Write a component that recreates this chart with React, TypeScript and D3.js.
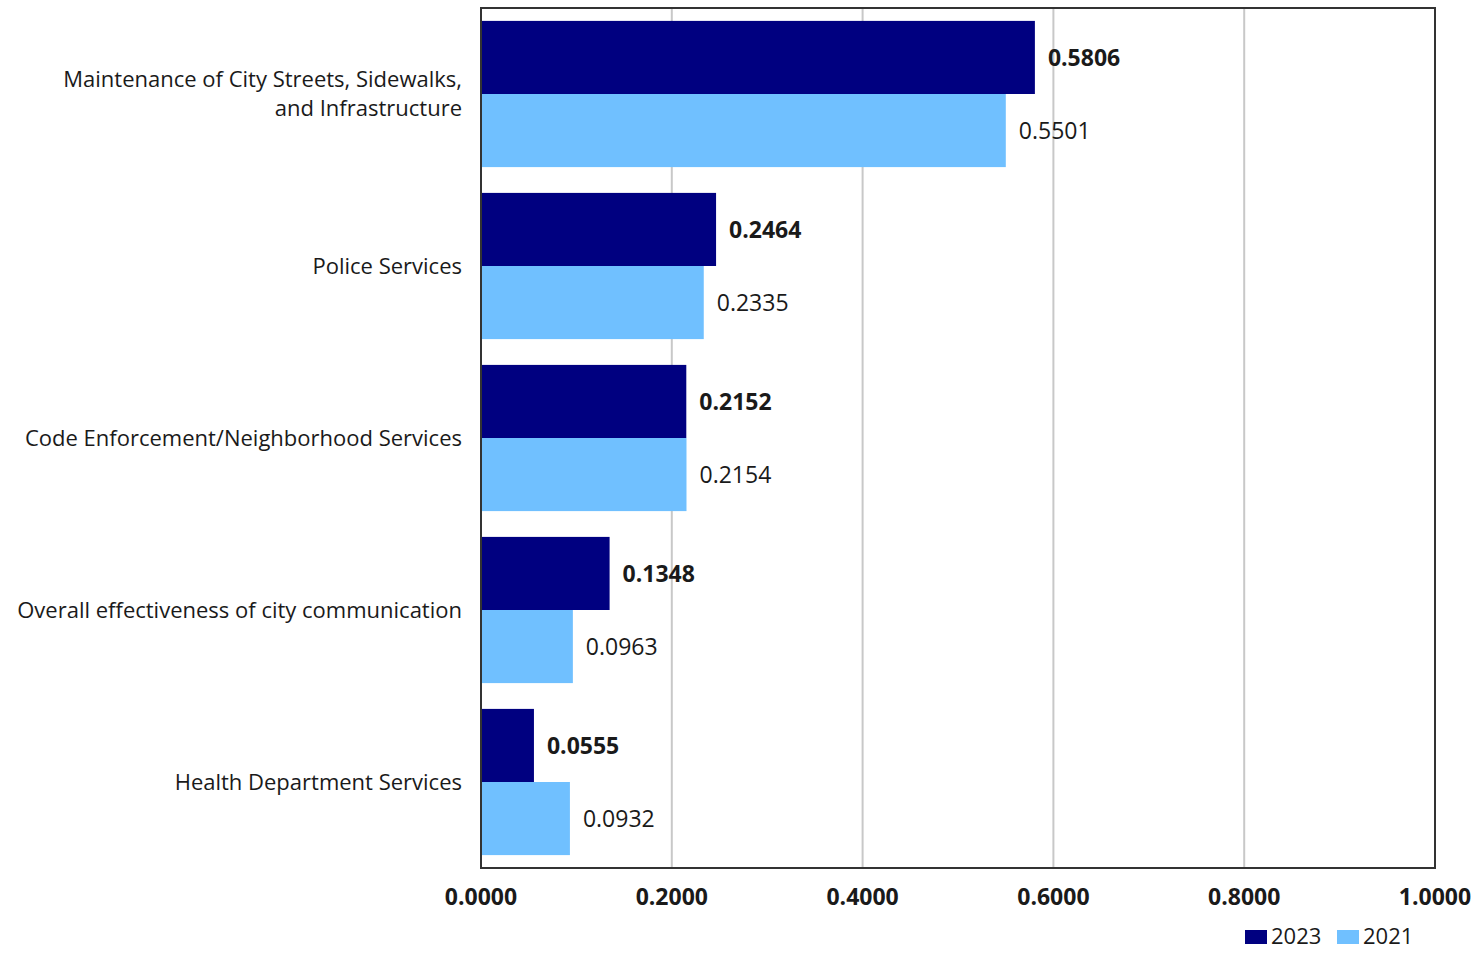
import React from "react";
import * as d3 from "d3";

const categories = [
  ["Maintenance of City Streets, Sidewalks,", "and Infrastructure"],
  ["Police Services"],
  ["Code Enforcement/Neighborhood Services"],
  ["Overall effectiveness of city communication"],
  ["Health Department Services"],
];
const series = ["2023", "2021"];
const values2023 = [0.5806, 0.2464, 0.2152, 0.1348, 0.0555];
const values2021 = [0.5501, 0.2335, 0.2154, 0.0963, 0.0932];
const ticks = [0, 0.2, 0.4, 0.6, 0.8, 1.0];
const colors = ["#000080", "#70C0FF"];

const W = 1480;
const H = 953;
const M = { left: 481, right: 1435, top: 8, bottom: 868 };
const FONT = "'Open Sans', 'Noto Sans', sans-serif";

export default function App() {
  const x = d3.scaleLinear().domain([0, 1]).range([M.left, M.right]);
  const y = d3
    .scaleBand<number>()
    .domain(d3.range(categories.length))
    .range([M.top, M.bottom])
    .paddingInner(0.15)
    .paddingOuter(0.075);
  const inner = d3.scaleBand<string>().domain(series).range([0, y.bandwidth()]);
  const data = [values2023, values2021];

  return (
    <svg
      width={W}
      height={H}
      style={{ position: "absolute", left: 0, top: 0, background: "#fff" }}
      fontFamily={FONT}
    >
      {ticks.slice(1, -1).map((t) => (
        <line key={t} x1={x(t)} x2={x(t)} y1={M.top} y2={M.bottom} stroke="#C8C8C8" strokeWidth={2} />
      ))}
      {categories.map((cat, i) =>
        series.map((s, j) => {
          const v = data[j][i];
          const y0 = (y(i) as number) + (inner(s) as number);
          return (
            <g key={`${i}-${j}`}>
              <rect x={x(0)} y={y0} width={x(v) - x(0)} height={inner.bandwidth()} fill={colors[j]} />
              <text
                x={x(v) + 13}
                y={y0 + inner.bandwidth() / 2}
                dy="0.35em"
                fontSize={23}
                fontWeight={j === 0 ? 700 : 400}
                fill="#1a1a1a"
              >
                {v.toFixed(4)}
              </text>
            </g>
          );
        })
      )}
      {categories.map((cat, i) => {
        const cy = (y(i) as number) + y.bandwidth() / 2;
        const lh = 29;
        return (
          <text key={i} x={462} textAnchor="end" fontSize={22} fill="#1a1a1a">
            {cat.map((line, k) => (
              <tspan key={k} x={462} y={cy + (k - (cat.length - 1) / 2) * lh} dy="0.35em">
                {line}
              </tspan>
            ))}
          </text>
        );
      })}
      <rect
        x={M.left}
        y={M.top}
        width={M.right - M.left}
        height={M.bottom - M.top}
        fill="none"
        stroke="#333"
        strokeWidth={2}
      />
      {ticks.map((t) => (
        <text key={t} x={x(t)} y={897} dy="0.35em" textAnchor="middle" fontSize={23} fontWeight={700} fill="#1a1a1a">
          {t.toFixed(4)}
        </text>
      ))}
      {series.map((s, j) => {
        const lx = 1245 + j * 92;
        return (
          <g key={s}>
            <rect x={lx} y={930} width={22} height={14} fill={colors[j]} />
            <text x={lx + 26} y={936} dy="0.35em" fontSize={22} fill="#1a1a1a">
              {s}
            </text>
          </g>
        );
      })}
    </svg>
  );
}
